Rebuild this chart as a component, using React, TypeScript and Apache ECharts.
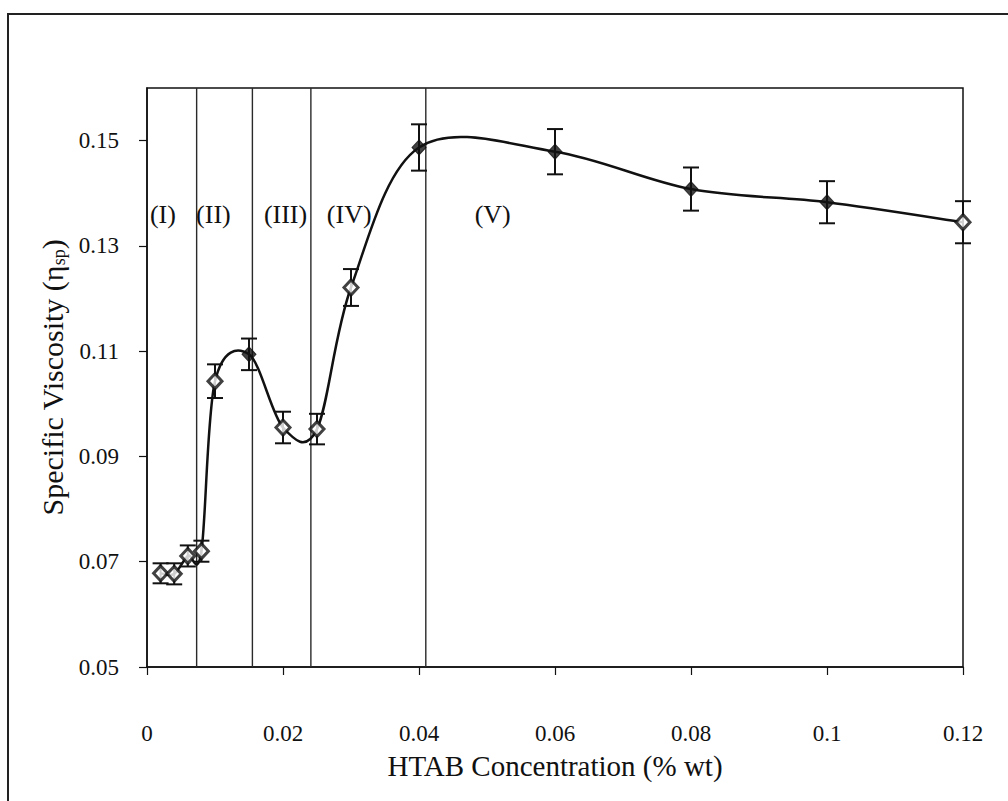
import React, { useEffect, useRef } from "react";
import * as echarts from "echarts";

// ---- data ----
const concentration = [0.002, 0.004, 0.006, 0.008, 0.01, 0.015, 0.02, 0.025, 0.03, 0.04, 0.06, 0.08, 0.1, 0.12];
const viscosity = [0.0678, 0.0677, 0.0711, 0.072, 0.1043, 0.1094, 0.0955, 0.0952, 0.1221, 0.1487, 0.1479, 0.1408, 0.1383, 0.1345];
const errorBar = [0.0019, 0.002, 0.002, 0.002, 0.0032, 0.003, 0.003, 0.0029, 0.0035, 0.0044, 0.0043, 0.0041, 0.004, 0.004];
const filledMarker = [false, false, false, false, false, true, false, false, false, true, true, true, true, false];
const regionBounds = [0.0073, 0.0155, 0.0241, 0.041];
const regionLabels = ["(I)", "(II)", "(III)", "(IV)", "(V)"];
const regionLabelX = [0.00234, 0.00977, 0.02037, 0.02974, 0.05084];
const regionLabelY = 0.136;
const xTicks = [0, 0.02, 0.04, 0.06, 0.08, 0.1, 0.12];
const yTicks = [0.05, 0.07, 0.09, 0.11, 0.13, 0.15];
const yMin = 0.05;
const yMax = 0.16;

const FONT = "'Liberation Serif', 'DejaVu Serif', serif";
const INK = "#111";

export default function App() {
  const ref = useRef<HTMLDivElement>(null);

  useEffect(() => {
    if (!ref.current) return;
    const chart = echarts.init(ref.current, null, { renderer: "svg" });

    const n = concentration.length;
    const clampIdx = (k: number) => Math.max(0, Math.min(n - 1, k));

    const markerPts = concentration.map((c, i) => ({
      value: [c, viscosity[i]],
      itemStyle: filledMarker[i]
        ? { color: INK, borderColor: INK, borderWidth: 1 }
        : { color: "#fff", borderColor: INK, borderWidth: 3 },
    }));
    const errPts = concentration.map((c, i) => [c, viscosity[i] - errorBar[i], viscosity[i] + errorBar[i]]);
    const segPts = concentration.slice(0, -1).map((c, i) => [c, viscosity[i], i]);

    const option: any = {
      animation: false,
      backgroundColor: "#fff",
      textStyle: { fontFamily: FONT, color: INK },
      graphic: [
        {
          type: "rect",
          shape: { x: 8, y: 14, width: 1100, height: 900 },
          style: { fill: "none", stroke: "#222", lineWidth: 2 },
          silent: true,
        },
      ],
      grid: {
        left: 147,
        right: 45,
        top: 88,
        bottom: 134,
        show: true,
        borderColor: INK,
        borderWidth: 1.5,
        backgroundColor: "transparent",
      },
      xAxis: {
        type: "value",
        min: 0,
        max: 0.12,
        interval: 0.02,
        name: "HTAB Concentration (% wt)",
        nameLocation: "middle",
        nameGap: 84,
        nameTextStyle: { fontFamily: FONT, fontSize: 29, color: INK },
        axisLine: { show: true, lineStyle: { color: INK, width: 1.5 } },
        axisTick: { show: true, length: 8, lineStyle: { color: INK, width: 1.2 }, customValues: xTicks },
        axisLabel: { fontFamily: FONT, fontSize: 23, color: INK, margin: 55, customValues: xTicks },
        splitLine: { show: false },
      },
      yAxis: {
        type: "value",
        min: yMin,
        max: yMax,
        name: "Specific Viscosity (η{sub|sp})",
        nameLocation: "middle",
        nameGap: 76,
        nameRotate: 90,
        nameTextStyle: {
          fontFamily: FONT,
          fontSize: 30,
          color: INK,
          rich: { sub: { fontFamily: FONT, fontSize: 18, color: INK, verticalAlign: "bottom", padding: [10, 0, 0, 0] } },
        },
        axisLine: { show: true, lineStyle: { color: INK, width: 1.5 } },
        axisTick: { show: true, length: 8, lineStyle: { color: INK, width: 1.2 }, customValues: yTicks },
        axisLabel: {
          fontFamily: FONT,
          fontSize: 23,
          color: INK,
          margin: 28,
          customValues: yTicks,
          formatter: (v: number) => v.toFixed(2),
        },
        splitLine: { show: false },
      },
      series: [
        // region dividers
        {
          type: "custom",
          data: regionBounds.map((x) => [x, yMin]),
          encode: { x: 0, y: 1 },
          z: 2,
          silent: true,
          renderItem: (params: any, api: any) => {
            const x = api.value(0);
            const a = api.coord([x, yMin]);
            const b = api.coord([x, yMax]);
            return {
              type: "line",
              shape: { x1: a[0], y1: a[1], x2: b[0], y2: b[1] },
              style: { stroke: "#2a2a2a", lineWidth: 1.4 },
            };
          },
        },
        // smooth curve through the data (Catmull-Rom style Bezier segments)
        {
          type: "custom",
          data: segPts,
          encode: { x: 0, y: 1 },
          z: 4,
          silent: true,
          renderItem: (params: any, api: any) => {
            const i = api.value(2);
            const P = (k: number) => {
              const j = clampIdx(k);
              return api.coord([concentration[j], viscosity[j]]);
            };
            const p0 = P(i - 1);
            const p1 = P(i);
            const p2 = P(i + 1);
            const p3 = P(i + 2);
            const t = 1 / 6;
            return {
              type: "bezierCurve",
              shape: {
                x1: p1[0],
                y1: p1[1],
                cpx1: p1[0] + (p2[0] - p0[0]) * t,
                cpy1: p1[1] + (p2[1] - p0[1]) * t,
                cpx2: p2[0] - (p3[0] - p1[0]) * t,
                cpy2: p2[1] - (p3[1] - p1[1]) * t,
                x2: p2[0],
                y2: p2[1],
              },
              style: { stroke: INK, lineWidth: 2.5, fill: "none" },
            };
          },
        },
        // error bars
        {
          type: "custom",
          data: errPts,
          encode: { x: 0, y: [1, 2] },
          z: 3,
          silent: true,
          renderItem: (params: any, api: any) => {
            const x = api.value(0);
            const lo = api.coord([x, api.value(1)]);
            const hi = api.coord([x, api.value(2)]);
            const w = 8;
            const st = { stroke: INK, lineWidth: 2 };
            return {
              type: "group",
              children: [
                { type: "line", shape: { x1: lo[0], y1: lo[1], x2: hi[0], y2: hi[1] }, style: st },
                { type: "line", shape: { x1: lo[0] - w, y1: lo[1], x2: lo[0] + w, y2: lo[1] }, style: st },
                { type: "line", shape: { x1: hi[0] - w, y1: hi[1], x2: hi[0] + w, y2: hi[1] }, style: st },
              ],
            };
          },
        },
        // markers
        {
          type: "scatter",
          data: markerPts,
          symbol: "diamond",
          symbolSize: [14, 15],
          z: 5,
          silent: true,
        },
        // region labels
        {
          type: "custom",
          data: regionLabels.map((t, i) => [regionLabelX[i], regionLabelY, i]),
          encode: { x: 0, y: 1 },
          z: 6,
          silent: true,
          renderItem: (params: any, api: any) => {
            const p = api.coord([api.value(0), api.value(1)]);
            return {
              type: "text",
              x: p[0],
              y: p[1],
              style: {
                text: regionLabels[api.value(2)],
                fontFamily: FONT,
                fontSize: 26,
                fill: INK,
                align: "center",
                verticalAlign: "middle",
              },
            };
          },
        },
      ],
    };

    chart.setOption(option);
    return () => {
      chart.dispose();
    };
  }, []);

  return (
    <div
      ref={ref}
      style={{ position: "absolute", left: 0, top: 0, width: 1008, height: 801, background: "#fff" }}
    />
  );
}
